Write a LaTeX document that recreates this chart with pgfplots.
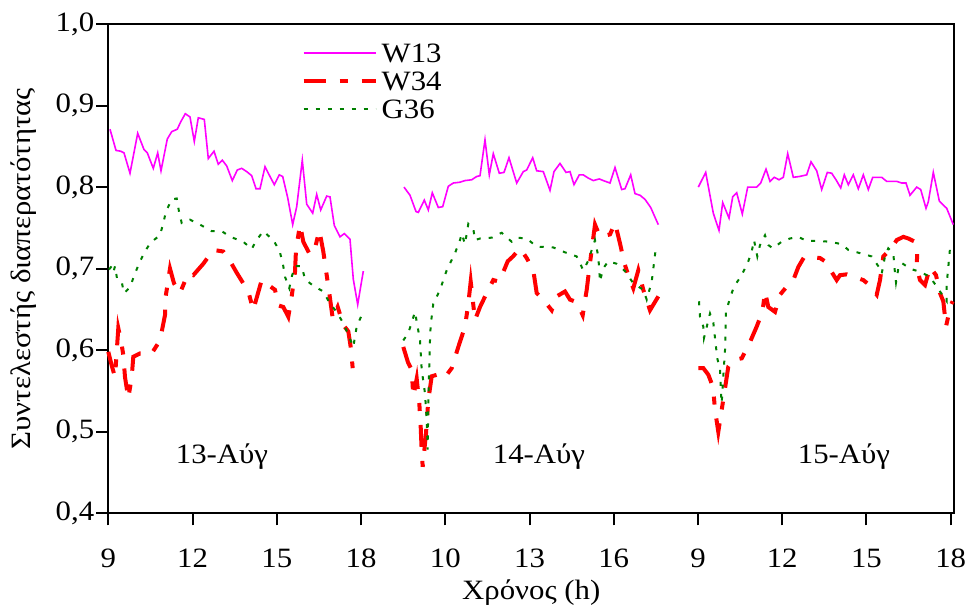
\documentclass[border=0pt]{standalone}
\usepackage{fontspec}
\setmainfont{Liberation Serif}[FakeStretch=1.1]
\usepackage{pgfplots}
\pgfplotsset{compat=1.18}
\definecolor{cW}{RGB}{255,0,255}
\definecolor{cR}{RGB}{255,0,0}
\definecolor{cG}{RGB}{0,128,0}
\newcommand\ff{\fontsize{14}{16}\selectfont}
\begin{document}
\begin{tikzpicture}
\useasboundingbox (-54.15pt,-46.35pt) rectangle (429.85pt,256.65pt);
\begin{axis}[
  at={(0,0)}, anchor=south west,
  scale only axis, width=423pt, height=244.65pt,
  xmin=108.3, xmax=954.3, ymin=0.4, ymax=1.0,
  xtick={108.3,192.54,276.78,361.02,445.26,529.5,613.74,697.98,782.22,866.46,950.7},
  xticklabels={9,12,15,18,10,13,16,9,12,15,18},
  ytick={0.4,0.5,0.6,0.7,0.8,0.9,1.0},
  /pgf/number format/assume math mode=true,
  tick label style={font=\ff},
  xticklabel style={yshift=-8.5pt},
  yticklabel style={xshift=2.5pt, /pgf/number format/.cd, fixed, fixed zerofill, precision=1, use comma},
  tick pos=left, tick align=outside, major tick length=6pt,
  axis line style={line width=1pt},
  every tick/.style={line width=1pt, black},
  xlabel={Χρόνος (h)}, ylabel={Συντελεστής διαπερατότητας},
  label style={font=\ff},
  xlabel style={at={(axis description cs:0.5,-0.1568)}, anchor=center, yshift=-1.5pt},
  ylabel style={at={(axis description cs:-0.0997,0.5)}, anchor=center},
  unbounded coords=jump,
  clip=false,
  legend image code/.code={\draw[#1] (0pt,0pt) -- (36pt,0pt);},
  legend style={at={(axis cs:301.7,0.976)}, anchor=north west, draw=none, fill=none,
    inner sep=0pt, outer sep=0pt, font=\ff, row sep=4.5pt, column sep=2pt,
    nodes={inner sep=0pt, text height=9.5pt, text depth=0pt}},
  legend cell align=left,
]
\addplot[cW, line width=0.8pt] coordinates {
(110,0.871)(116,0.845)(120.7,0.844)(124,0.842)(130,0.817)(137.7,0.866)(144,0.846)(147.3,0.842)(153.3,0.823)(157.7,0.842)(161,0.820)(167.3,0.859)(171.7,0.868)(177.3,0.871)(180.7,0.880)(185.3,0.890)(190,0.886)(194.3,0.856)(198.3,0.885)(204.3,0.883)(208.3,0.835)(214,0.844)(218.3,0.828)(222.3,0.833)(226.7,0.826)(232.3,0.808)(237.3,0.821)(241.7,0.823)(246.7,0.819)(251.7,0.814)(256,0.798)(260,0.798)(265,0.825)(270,0.813)(274.3,0.803)(279.3,0.815)(282.7,0.813)(287.7,0.787)(292.7,0.754)(296.7,0.776)(302.3,0.833)(306.7,0.779)(312.7,0.768)(316.7,0.791)(320.7,0.772)(326.7,0.789)(330,0.788)(334.3,0.753)(340,0.739)(344.3,0.743)(350,0.736)(353.3,0.687)(357.7,0.656)(363.3,0.697)
(380,nan)
(404,0.800)(410,0.790)(416,0.770)(418.3,0.769)(424.3,0.784)(428.3,0.772)(432.3,0.793)(438.3,0.775)(442.7,0.776)(448.3,0.801)(453.3,0.805)(460,0.806)(465,0.808)(471.7,0.809)(476.7,0.813)(480,0.814)(485,0.858)(489.3,0.815)(493.3,0.841)(499.3,0.817)(504,0.818)(509,0.836)(516.7,0.805)(523.3,0.819)(526.7,0.821)(532.7,0.836)(536.7,0.820)(543.3,0.819)(550,0.796)(554,0.819)(560,0.829)(566,0.818)(570,0.819)(574,0.803)(579.3,0.815)(583.3,0.815)(588.3,0.811)(593.3,0.808)(599.3,0.810)(603.3,0.808)(610,0.805)(615,0.824)(621.7,0.797)(625,0.798)(630.7,0.815)(635,0.792)(640,0.790)(645,0.785)(650.7,0.775)(658.3,0.754)
(680,nan)
(698.3,0.800)(705.7,0.818)(713.3,0.768)(719,0.747)(722.7,0.781)(729,0.762)(732.7,0.788)(736.7,0.793)(742.3,0.767)(747.7,0.800)(756.7,0.800)(760.7,0.805)(766,0.822)(770,0.807)(774.3,0.812)(779,0.809)(783.3,0.812)(787.7,0.841)(793.3,0.812)(799.3,0.813)(806.7,0.815)(811,0.831)(816.7,0.820)(821.7,0.797)(827.3,0.818)(831.7,0.817)(836,0.809)(840.7,0.799)(844.3,0.815)(848.3,0.803)(853.3,0.815)(858.3,0.798)(863.3,0.815)(868.3,0.797)(872.7,0.812)(881.7,0.812)(886.7,0.807)(896.7,0.807)(901.7,0.805)(906,0.805)(910,0.790)(916.7,0.800)(920.7,0.797)(926,0.774)(928.3,0.782)(933.3,0.818)(939.3,0.783)(943.3,0.778)(946.7,0.774)(953.3,0.754)
};
\addlegendentry{W13}
\addplot[cR, line width=2pt, dash pattern=on 11pt off 7pt on 4pt off 7pt] coordinates {
(108.3,0.598)(112,0.580)(115,0.567)(118.3,0.627)(121,0.612)(123.3,0.594)(125,0.567)(128.3,0.541)(131.7,0.567)(133.3,0.592)(140,0.596)(151.7,0.596)(160,0.612)(165,0.643)(165.7,0.666)(170,0.700)(174,0.682)(180,0.670)(184,0.682)(188.3,0.694)(193.3,0.692)(203.3,0.706)(213.3,0.723)(223.3,0.721)(228.3,0.713)(236.7,0.695)(248.3,0.672)(253.3,0.649)(255,0.657)(261.7,0.686)(275,0.674)(278.3,0.655)(283.3,0.653)(288.3,0.641)(291.7,0.666)(295,0.696)(296,0.723)(300,0.754)(303.3,0.733)(310,0.717)(315,0.725)(319.3,0.747)(323.3,0.721)(326.7,0.692)(329.3,0.670)(332.7,0.639)(337.7,0.653)(343.3,0.631)(348.3,0.623)(350.7,0.604)(352.7,0.578)
(380,nan)
(403.3,0.604)(408,0.585)(411.7,0.576)(413.3,0.543)(416.7,0.565)(419.3,0.535)(420.7,0.506)(421.7,0.476)(422.7,0.457)(426,0.498)(428.3,0.539)(431.7,0.568)(440,0.571)(445,0.567)(451.7,0.578)(458.3,0.604)(465,0.629)(468.3,0.657)(470.7,0.684)(475,0.637)(480,0.653)(486.7,0.670)(493.3,0.686)(499.3,0.684)(507.7,0.709)(513,0.715)(520,0.725)(526.7,0.713)(533.3,0.698)(536.7,0.670)(543.3,0.662)(551.7,0.649)(556.7,0.666)(565,0.672)(570,0.662)(576.7,0.659)(582.7,0.643)(586.7,0.674)(590,0.707)(595,0.754)(600,0.739)(610,0.742)(615,0.756)(620,0.731)(624.3,0.707)(628.3,0.692)(633.3,0.676)(638.3,0.698)(643.3,0.674)(650,0.649)(658.3,0.666)
(680,nan)
(698.3,0.578)(703.3,0.578)(708.3,0.570)(711.7,0.559)(713.3,0.551)(715,0.527)(718.3,0.500)(721.7,0.527)(725,0.553)(728.3,0.580)(733.3,0.588)(741.7,0.590)(750,0.610)(756.7,0.629)(761.7,0.645)(763.3,0.655)(765,0.672)(768.3,0.653)(775,0.647)(780,0.668)(786.7,0.678)(793.3,0.686)(798.3,0.702)(804,0.714)(812,0.714)(820,0.713)(825,0.709)(836.7,0.686)(840,0.692)(846.7,0.693)(863.3,0.686)(867.3,0.682)(876.7,0.668)(880,0.686)(883.3,0.715)(890,0.723)(896.7,0.735)(903.3,0.739)(908.3,0.737)(915,0.733)(917.3,0.723)(916.7,0.702)(920,0.686)(925,0.680)(930,0.702)(936,0.692)(940,0.670)(943.3,0.660)(946,0.629)(950.7,0.655)(952.7,0.660)
};
\addlegendentry{W34}
\addplot[cG, line width=1pt, dash pattern=on 2pt off 4pt] coordinates {
(109,0.699)(111.7,0.703)(113.5,0.696)(115,0.703)(117,0.688)(121.7,0.684)(124,0.670)(130,0.677)(134,0.691)(138.3,0.704)(144.3,0.720)(150.7,0.732)(160,0.741)(163.3,0.756)(166,0.770)(171.7,0.785)(176.7,0.786)(179,0.770)(181.7,0.756)(190,0.760)(200,0.754)(211.7,0.746)(221.7,0.746)(230.3,0.739)(243.3,0.733)(251.7,0.724)(256,0.734)(263.3,0.746)(274,0.734)(280,0.720)(283.3,0.703)(285,0.690)(289.3,0.676)(291.7,0.690)(295,0.703)(301.7,0.703)(305,0.687)(313.3,0.679)(323.3,0.672)(330,0.657)(336.7,0.647)(343.3,0.633)(348.3,0.619)(353.3,0.604)(356.7,0.629)(361,0.641)
(380,nan)
(403.3,0.612)(408.3,0.621)(415,0.647)(420,0.612)(421.7,0.576)(425,0.547)(426.7,0.514)(427.7,0.478)(428.3,0.539)(430,0.612)(430.7,0.631)(433.3,0.657)(440,0.674)(446.7,0.698)(455,0.719)(460,0.735)(461.7,0.743)(465,0.730)(468.3,0.755)(473.3,0.749)(475,0.735)(480,0.737)(491.7,0.738)(501.7,0.744)(511.7,0.733)(516.7,0.738)(526.7,0.737)(536.7,0.727)(553.3,0.726)(565,0.720)(576.7,0.715)(583.3,0.698)(588.3,0.710)(595,0.735)(598.3,0.715)(600,0.684)(603,0.700)(608.3,0.709)(616.7,0.706)(625,0.697)(633.3,0.682)(643.3,0.674)(646.7,0.662)(651.7,0.684)(654,0.707)(656,0.727)
(680,nan)
(699,0.660)(700,0.641)(703.3,0.629)(704,0.615)(710,0.645)(713.3,0.634)(716,0.604)(717.3,0.590)(720,0.576)(721,0.547)(721.7,0.535)(723.3,0.568)(725,0.600)(726,0.647)(730,0.664)(734,0.678)(741.7,0.692)(748.3,0.709)(751.7,0.721)(754,0.735)(757.3,0.715)(760,0.729)(765,0.741)(768.3,0.729)(772.7,0.725)(781.7,0.733)(790,0.737)(798.3,0.739)(806.7,0.734)(818.3,0.734)(830,0.733)(841.7,0.730)(848.3,0.723)(860,0.719)(871.7,0.715)(880,0.700)(881.7,0.694)(885,0.715)(888.3,0.725)(893.3,0.719)(895,0.694)(896,0.683)(898.3,0.700)(901.7,0.707)(910,0.700)(920,0.696)(930,0.690)(933.3,0.684)(936.7,0.678)(940,0.672)(946.7,0.660)(946.7,0.682)(948.3,0.702)(950,0.725)
};
\addlegendentry{G36}
\node[font=\ff, anchor=base] at (axis cs:222,0.4605) {13-Αύγ};
\node[font=\ff, anchor=base] at (axis cs:539,0.4605) {14-Αύγ};
\node[font=\ff, anchor=base] at (axis cs:844,0.4605) {15-Αύγ};
\end{axis}
\end{tikzpicture}
\end{document}
